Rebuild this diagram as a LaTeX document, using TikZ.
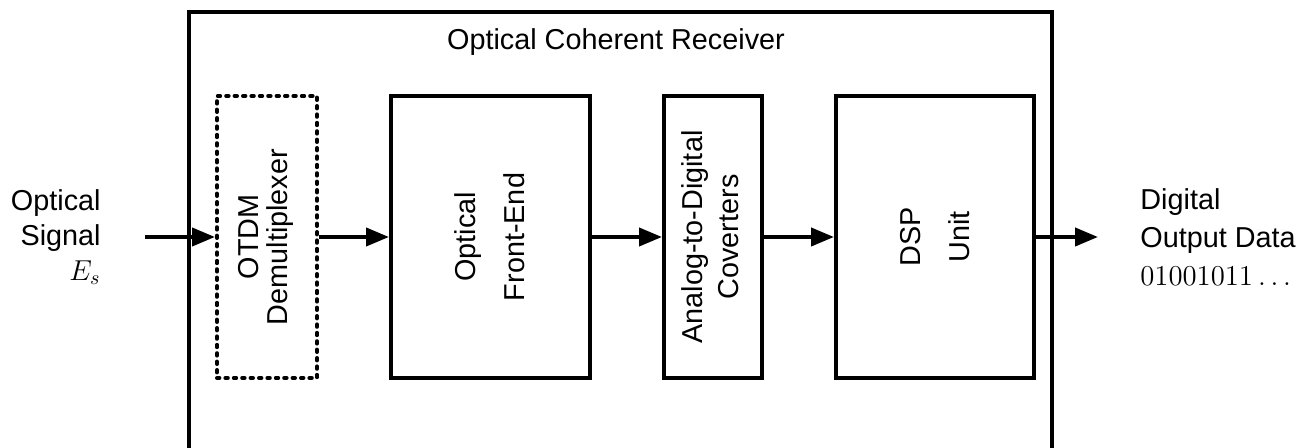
\documentclass[tikz,border=0pt]{standalone}
\usepackage{fontspec}
\setmainfont{Liberation Sans}
\usepackage{graphicx}
\usetikzlibrary{arrows.meta, positioning}
\newcommand{\vlabel}[3]{\rotatebox{90}{\def\arraystretch{#1}\begin{tabular}{@{}c@{}}#2\\#3\end{tabular}}}

\begin{document}
\begin{tikzpicture}[
      x=0.5pt, y=-0.5pt,
      node distance=35pt,
      font=\fontsize{14.4}{17.5}\selectfont,
      box/.style={rectangle, draw=black, line width=2pt,
                  minimum height=141pt, inner sep=0pt, align=center},
      dotbox/.style={box, dash pattern=on 1.2pt off 3pt, line cap=round},
      frame/.style={rectangle, draw=black, line width=2pt, inner sep=0pt},
      txt/.style={inner sep=0pt},
      arr/.style={-{Triangle[length=11.5pt, width=9pt]}, line width=2pt, draw=black}
    ]
    \clip (0,0) rectangle (1297,448);
    \node[frame, minimum width=431.5pt, minimum height=229pt] (rx) at (620.5,241) {};
    \node[txt, anchor=base] (title) at (616,50) {Optical Coherent Receiver};
    \node[dotbox, minimum width=50pt] (dmx) at (267,237) {\vlabel{0.8}{OTDM}{Demultiplexer}};
    \node[box, minimum width=99.5pt, right=of dmx] (fe) {\vlabel{1.4}{Optical}{Front-End}};
    \node[box, minimum width=49pt, right=of fe] (adc) {\vlabel{1.03}{Analog-to-Digital}{Coverters}};
    \node[box, minimum width=99pt, right=of adc] (dsp) {\vlabel{1.4}{DSP}{Unit}};
    \node[txt, anchor=east, align=right] (sigtxt) at (101,237) {Optical\\Signal\\$E_s$};
    \node[txt, anchor=west, align=left] (datatxt) at (1140,237) {Digital\\[1.5pt]Output Data\\[1.5pt]$01001011\ldots$};
    \coordinate (sig) at (145,237);
    \coordinate (data) at (1098,237);
    \draw[arr] (sig) -- (dmx);
    \draw[arr] (dmx) -- (fe);
    \draw[arr] (fe) -- (adc);
    \draw[arr] (adc) -- (dsp);
    \draw[arr] (dsp) -- (data);
  \end{tikzpicture}
\end{document}
